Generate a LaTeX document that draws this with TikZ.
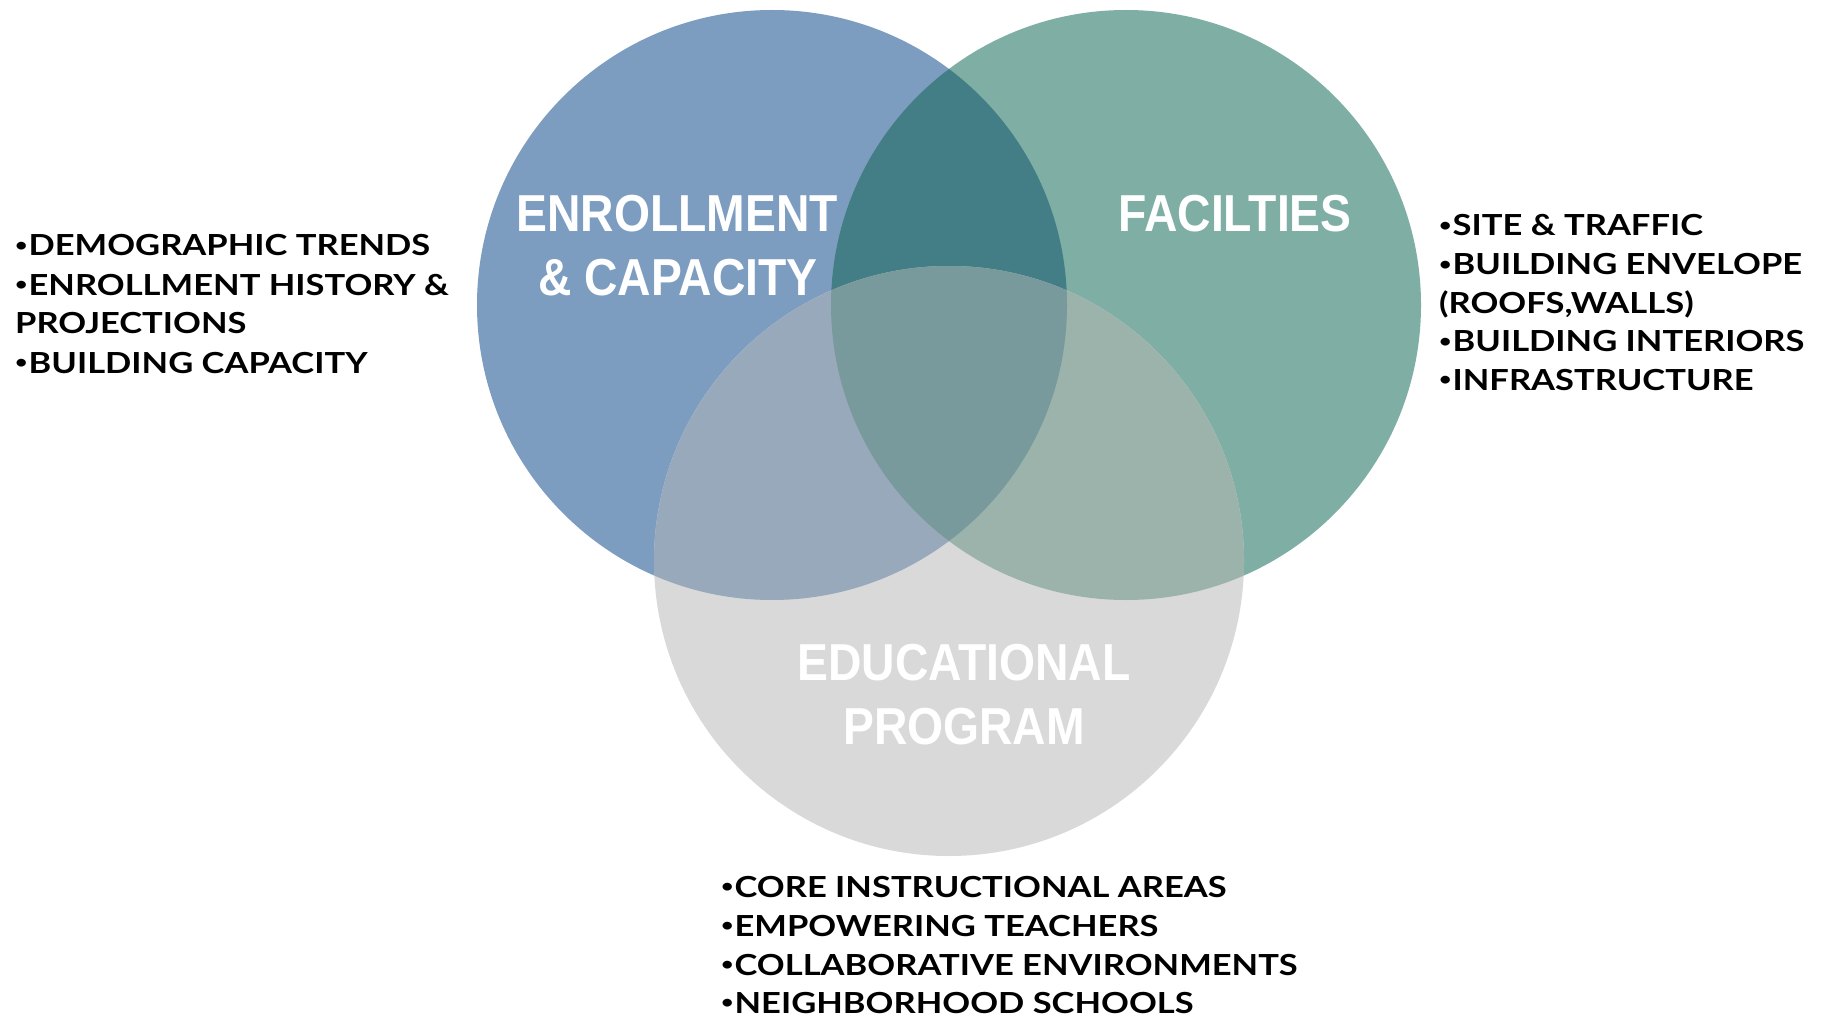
\documentclass[tikz,border=0pt]{standalone}
\usepackage{fontspec}
\setmainfont{Lato}
\newfontfamily\listfont[FakeStretch=1.19]{Lato}
\newfontfamily\labfont[FakeStretch=0.89]{Liberation Sans}
\newcommand\mybul{{\fontsize{18}{20}\selectfont\raisebox{4.5pt}{•}}\kern1pt}
\definecolor{cblue}{HTML}{7D9DC0}
\definecolor{cgreen}{HTML}{7FAEA5}
\definecolor{cgray}{HTML}{D9D9D9}
\definecolor{cbg}{HTML}{437E86}
\definecolor{cby}{HTML}{98A9BC}
\definecolor{cgy}{HTML}{9BB3AB}
\definecolor{call}{HTML}{789A9C}
\begin{document}
\begin{tikzpicture}[x=1pt,y=-1pt,
  listtext/.style={anchor=base west, inner sep=0pt, text=black,
    font=\listfont\bfseries\fontsize{29}{35}\selectfont},
  labtext/.style={anchor=base, inner sep=0pt, text=white,
    font=\labfont\bfseries\fontsize{52}{60}\selectfont}]
\useasboundingbox[fill=white] (0,0) rectangle (1831,1016);
\coordinate (B) at (772,305);
\coordinate (G) at (1126,305);
\coordinate (Y) at (949,561);
\def\R{295pt}
% base circles
\fill[cblue] (B) circle[radius=\R];
\fill[cgreen] (G) circle[radius=\R];
\fill[cgray] (Y) circle[radius=\R];
% pairwise overlaps
\begin{scope}
  \clip (B) circle[radius=\R];
  \fill[cbg] (G) circle[radius=\R];
  \fill[cby] (Y) circle[radius=\R];
\end{scope}
\begin{scope}
  \clip (G) circle[radius=\R];
  \fill[cgy] (Y) circle[radius=\R];
\end{scope}
% triple overlap
\begin{scope}
  \clip (B) circle[radius=\R];
  \clip (G) circle[radius=\R];
  \fill[call] (Y) circle[radius=\R];
\end{scope}
% circle labels
\node[labtext] (l1a) at (677,232) {ENROLLMENT};
\node[labtext] (l1b) at (678,295) {\&~CAPACITY};
\node[labtext] (l2) at (1235,232) {FACILTIES};
\node[labtext] (l3a) at (964,680) {EDUCATIONAL};
\node[labtext] (l3b) at (964,744) {PROGRAM};
% left list
\node[listtext] (a1) at (15,256) {\mybul DEMOGRAPHIC TRENDS};
\node[listtext] (a2) at (15,295) {\mybul ENROLLMENT HISTORY \&};
\node[listtext] (a3) at (15,334) {PROJECTIONS};
\node[listtext] (a4) at (15,373) {\mybul BUILDING CAPACITY};
% right list
\node[listtext] (b1) at (1439,236) {\mybul SITE \& TRAFFIC};
\node[listtext] (b2) at (1439,275) {\mybul BUILDING ENVELOPE};
\node[listtext] (b3) at (1439,313) {(ROOFS,WALLS)};
\node[listtext] (b4) at (1439,352) {\mybul BUILDING INTERIORS};
\node[listtext] (b5) at (1439,390) {\mybul INFRASTRUCTURE};
% bottom list
\node[listtext] (c1) at (721,897) {\mybul CORE INSTRUCTIONAL AREAS};
\node[listtext] (c2) at (721,936) {\mybul EMPOWERING TEACHERS};
\node[listtext] (c3) at (721,975) {\mybul COLLABORATIVE ENVIRONMENTS};
\node[listtext] (c4) at (721,1013) {\mybul NEIGHBORHOOD SCHOOLS};
\end{tikzpicture}
\end{document}
